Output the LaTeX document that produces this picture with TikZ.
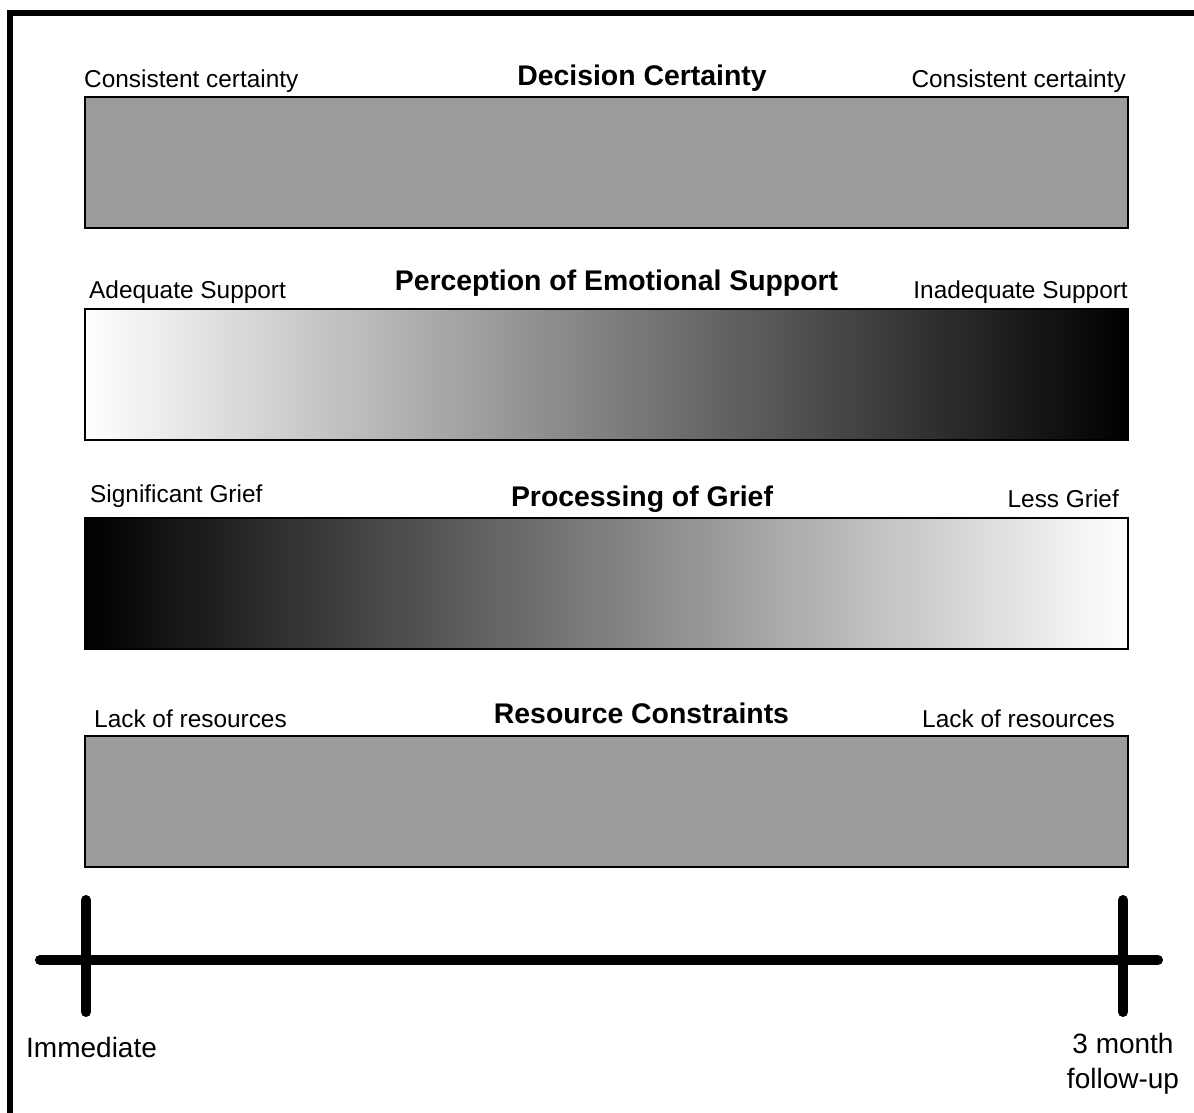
\documentclass[tikz,border=0pt]{standalone}
\usepackage{fontspec}
\setmainfont{Liberation Sans}
\begin{document}
\begin{tikzpicture}[x=1pt,y=-1pt,
  bar/.style={draw=black,line width=1.5pt,minimum width=1043pt,minimum height=131pt,inner sep=0pt,anchor=north west},
  flatbar/.style={bar,fill=barGray},
  endlabel/.style={inner sep=0pt,font=\fontsize{24.4}{29}\selectfont},
  title/.style={inner sep=0pt,anchor=base,font=\fontsize{28.4}{34}\bfseries\selectfont},
  timetext/.style={inner sep=0pt,font=\fontsize{28}{35}\selectfont,align=center},
  axis/.style={line width=10pt,line cap=round}]
\definecolor{barGray}{RGB}{155,155,155}
\useasboundingbox (0,0) rectangle (1194,1112);
\clip (0,0) rectangle (1194,1112);
\fill[white] (0,0) rectangle (1194,1112);
% outer frame, running off the right and bottom edges
\draw[line width=6pt] (10,13) rectangle (1214,1134);

% Decision Certainty
\node[flatbar] (dc) at (84,96) {};
\node[title] (dct) at (642,85) {Decision Certainty};
\node[endlabel,anchor=base west] (dcl) at (84,87) {Consistent certainty};
\node[endlabel,anchor=base east] (dcr) at (1126,87) {Consistent certainty};

% Perception of Emotional Support
\node[bar,left color=white,right color=black] (es) at (84,308) {};
\node[title] (est) at (616.5,290) {Perception of Emotional Support};
\node[endlabel,anchor=base west] (esl) at (89,298) {Adequate Support};
\node[endlabel,anchor=base east] (esr) at (1128,298) {Inadequate Support};

% Processing of Grief
\node[bar,left color=black,right color=white] (pg) at (84,517) {};
\node[title] (pgt) at (642,506) {Processing of Grief};
\node[endlabel,anchor=base west] (pgl) at (90,502) {Significant Grief};
\node[endlabel,anchor=base east] (pgr) at (1119,507) {Less Grief};

% Resource Constraints
\node[flatbar] (rc) at (84,735) {};
\node[title] (rct) at (641.5,723) {Resource Constraints};
\node[endlabel,anchor=base west] (rcl) at (94,727) {Lack of resources};
\node[endlabel,anchor=base east] (rcr) at (1115,727) {Lack of resources};

% time axis
\coordinate (axl) at (40,960);
\coordinate (axr) at (1158,960);
\coordinate (t0a) at (86,900);
\coordinate (t0b) at (86,1012);
\coordinate (t1a) at (1123,900);
\coordinate (t1b) at (1123,1012);
\draw[axis] (axl) -- (axr);
\draw[axis] (t0a) -- (t0b);
\draw[axis] (t1a) -- (t1b);
\node[timetext,anchor=base west] (now) at (26,1057) {Immediate};
% base anchor of a two-line node sits on the last line
\node[timetext,anchor=base] (later) at (1123,1088) {3 month\\follow-up};
\end{tikzpicture}
\end{document}
